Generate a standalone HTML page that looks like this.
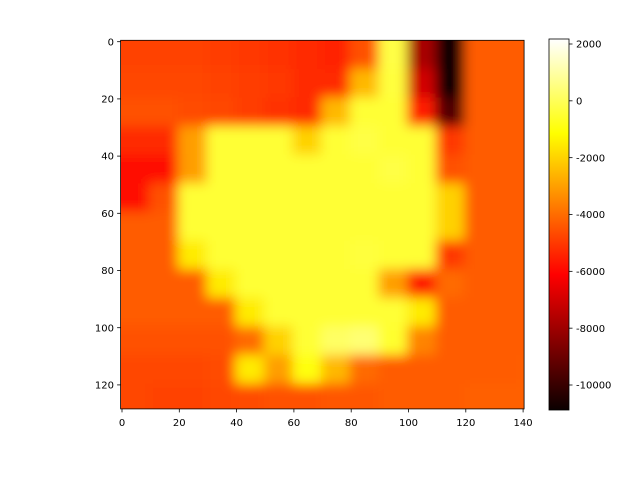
<!DOCTYPE html>
<html><head><meta charset="utf-8"><style>
body{margin:0;background:#fff;}
svg text{font-family:"DejaVu Sans","Liberation Sans",sans-serif;font-size:10px;fill:#000;}
</style></head><body>
<svg id="chart" width="640" height="480">
<defs>
<clipPath id="clip"><rect x="120.6" y="40.3" width="403.5" height="368.6"/></clipPath>
<filter id="blur" filterUnits="userSpaceOnUse" x="90" y="10" width="470" height="430"><feGaussianBlur stdDeviation="6"/></filter>
<linearGradient id="cbgrad" x1="0" y1="1" x2="0" y2="0">
<stop offset="0" stop-color="#0b0000"/><stop offset="0.365" stop-color="#ff0000"/>
<stop offset="0.746" stop-color="#ffff00"/><stop offset="1" stop-color="#ffffff"/>
</linearGradient>
</defs>
<g id="cells" clip-path="url(#clip)"><g id="cellsInner" filter="url(#blur)"></g></g>
<rect x="120.6" y="40.3" width="403.5" height="368.6" fill="none" stroke="#000" stroke-width="0.8"/>
<g id="axes"></g>
<rect x="549" y="39" width="20" height="371" fill="url(#cbgrad)" stroke="#000" stroke-width="0.8"/>
<g id="cbticks"></g>
</svg>
<script>
const colStarts=[0,10,20,30,40,50,60,70,80,90,100,110,120,130,140];
const rowStarts=[0,10,20,30,40,50,60,70,80,90,100,110,120];
const values=[
[-4800,-4800,-4800,-4900,-5000,-5100,-5300,-5400,-4500,-200,-7800,-10800,-4300,-4300,-4300],
[-4700,-4700,-4700,-4800,-4900,-5000,-5300,-5300,-2500,-300,-7000,-10800,-4300,-4300,-4300],
[-4500,-4500,-4600,-4700,-4900,-5100,-5300,-2500,-400,-400,-5500,-9500,-4300,-4300,-4300],
[-5300,-5300,-3000,-400,-400,-400,-2000,-400,-200,-400,-400,-5000,-4300,-4300,-4300],
[-5800,-5800,-3000,-400,-400,-400,-400,-400,-400,-200,-400,-4500,-4300,-4300,-4300],
[-5800,-4500,-400,-400,-400,-400,-400,-400,-400,-400,-400,-2000,-4300,-4300,-4300],
[-4300,-4300,-400,-400,-400,-400,-400,-400,-400,-400,-400,-2000,-4300,-4300,-4300],
[-4300,-4300,-1500,-400,-400,-400,-400,-400,-300,-400,-400,-5000,-4300,-4300,-4300],
[-4300,-4300,-4300,-1500,-400,-400,-400,-400,-400,-3000,-5500,-4000,-4300,-4300,-4300],
[-4300,-4300,-4300,-4300,-1500,-400,-400,-400,-400,-400,-1500,-4300,-4300,-4300,-4300],
[-4500,-4500,-4500,-4500,-4000,-2000,-400,200,400,-500,-3500,-4300,-4300,-4300,-4300],
[-4700,-4700,-4700,-4600,-1500,-3000,-1000,-2500,-4000,-4300,-4300,-4300,-4300,-4300,-4200],
[-4700,-4800,-4800,-4700,-4600,-4500,-4500,-4400,-4400,-4300,-4300,-4300,-4200,-4200,-4200]
];
const xTicks=[0,20,40,60,80,100,120,140];
const yTicks=[0,20,40,60,80,100,120];
const cbTicks=[2000,0,-2000,-4000,-6000,-8000,-10000];
const nCols=141,nRows=129,vmin=-10880,vmax=2230;
const xs=c=>122+c*2.865, ys=r=>41.7+r*2.86;
const cbY=v=>385-(v+10000)*(341/12000);
function hot(v){let t=Math.max(0,Math.min(1,(v-vmin)/(vmax-vmin)));
 const r=Math.min(1,0.0416+t/0.365*0.958),g=Math.max(0,Math.min(1,(t-0.365)/0.381)),b=Math.max(0,Math.min(1,(t-0.746)/0.254));
 return `rgb(${Math.round(r*255)},${Math.round(g*255)},${Math.round(b*255)})`;}
const NS="http://www.w3.org/2000/svg";
const inner=document.getElementById('cellsInner');
rowStarts.forEach((r0,i)=>{const r1=i+1<rowStarts.length?rowStarts[i+1]:nRows;
 colStarts.forEach((c0,j)=>{const c1=j+1<colStarts.length?colStarts[j+1]:nCols;
  const e=document.createElementNS(NS,'rect');
  const x0=xs(c0-0.5)-(j==0?20:0),y0=ys(r0-0.5)-(i==0?20:0);
  const x1=xs(c1-0.5)+(j==colStarts.length-1?20:0),y1=ys(r1-0.5)+(i==rowStarts.length-1?20:0);
  e.setAttribute('x',x0);e.setAttribute('y',y0);e.setAttribute('width',x1-x0+0.5);e.setAttribute('height',y1-y0+0.5);
  e.setAttribute('fill',hot(values[i][j]));
  
  
  inner.appendChild(e);});});
const ax=document.getElementById('axes');
function add(tag,attrs,txt){const e=document.createElementNS(NS,tag);for(const k in attrs)e.setAttribute(k,attrs[k]);if(txt!==undefined)e.textContent=txt;return e;}
xTicks.forEach(t=>{const x=xs(t);
 const l=add('line',{x1:x,x2:x,y1:408.9,y2:412.4,stroke:'#000','stroke-width':0.8});
 
 
 ax.appendChild(l);
 const tx=add('text',{x:x,y:426,'text-anchor':'middle'},t);
 
 
 ax.appendChild(tx);});
yTicks.forEach(t=>{const y=ys(t);
 const l=add('line',{x1:117.1,x2:120.6,y1:y,y2:y,stroke:'#000','stroke-width':0.8});
 
 
 ax.appendChild(l);
 const tx=add('text',{x:114,y:y+3.6,'text-anchor':'end'},t);
 
 
 ax.appendChild(tx);});
const cb=document.getElementById('cbticks');
cbTicks.forEach(t=>{const y=cbY(t);
 const l=add('line',{x1:569,x2:572.5,y1:y,y2:y,stroke:'#000','stroke-width':0.8});
 
 
 cb.appendChild(l);
 const tx=add('text',{x:576,y:y+3.6},t);
 
 
 cb.appendChild(tx);});
</script>
</body></html>
